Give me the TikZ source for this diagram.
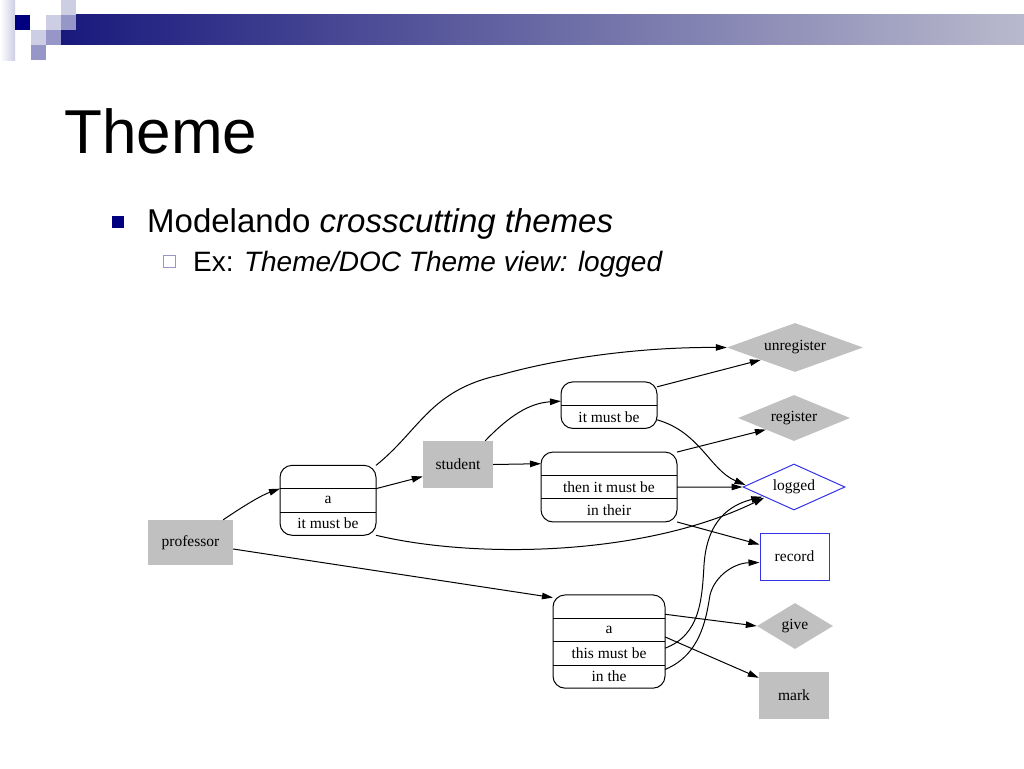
\documentclass[tikz,border=0pt]{standalone}
\usepackage{fontspec}
\setmainfont{Liberation Serif}
\newfontfamily\slidefont{Liberation Sans}
\usetikzlibrary{positioning,calc,shapes,arrows.meta,fit}
\definecolor{navy}{RGB}{0,0,128}
\definecolor{nodegray}{RGB}{192,192,192}
\definecolor{edgeblue}{RGB}{50,50,230}
\definecolor{barleft}{RGB}{25,25,125}
\definecolor{barright}{RGB}{185,185,205}
\definecolor{sqlight}{RGB}{205,205,228}
\definecolor{sqmid}{RGB}{150,150,200}

\begin{document}
\begin{tikzpicture}[x=1pt, y=-1pt,
    every node/.style={font=\fontsize{15.5}{17}\selectfont},
    cell/.style={minimum width=#1, minimum height=23.3, inner sep=0, outer sep=0},
    rec/.style={draw, rounded corners=12, inner sep=0, line width=1},
    term/.style={fill=nodegray, minimum width=70, minimum height=47, inner sep=0},
    gdiam/.style={diamond, aspect=2.4, fill=nodegray, inner sep=0},
    arr/.style={-{Triangle[length=11,width=6.5]}, line width=1}]
  \useasboundingbox (0,0) rectangle (1024,768);

  % slide header
  \shade[left color=white, right color=sqlight] (0,0) rectangle (15,60);
  \shade[left color=barleft, right color=barright] (61,15) rectangle (1024,45);
  \fill[navy] (15,15) rectangle (30,30);
  \fill[sqlight] (61,0) rectangle (76,15);
  \fill[sqlight] (46,15) rectangle (61,30);
  \fill[sqmid] (61,15) rectangle (76,30);
  \fill[sqlight] (31,30) rectangle (46,45);
  \fill[sqmid] (46,30) rectangle (61,45);
  \fill[sqmid] (31,45) rectangle (46,60);

  \node[anchor=base west, inner sep=0, font=\slidefont\fontsize{62}{62}\selectfont] (title) at (64,153) {Theme};
  \node[fill=navy, minimum size=12, inner sep=0] (bul1) at (118,221.5) {};
  \node[anchor=base west, inner sep=0, font=\slidefont\fontsize{33}{33}\selectfont] (line1) at (147,232) {Modelando \textit{crosscutting themes}};
  \node[draw=sqmid, minimum size=12, inner sep=0, line width=0.8] (bul2) at (169.5,261.5) {};
  \node[anchor=base west, inner sep=0, font=\slidefont\fontsize{28}{28}\selectfont] (line2) at (193,271) {Ex: \textit{Theme/DOC Theme view: logged}};

  % diagram
  \node[term, minimum width=85, minimum height=45] (prof) at (190.5,542.5) {professor};
  \node[term] (student) at (458,464.5) {student};

  \node[cell=96] (b1a) at (328,477) {};
  \node[cell=96, below=0pt of b1a] (b1b) {a};
  \node[cell=96, below=0pt of b1b] (b1c) {it must be};
  \node[rec, fit=(b1a)(b1c)] (b1) {};
  \draw (b1a.south west) -- (b1a.south east) (b1b.south west) -- (b1b.south east);

  \node[cell=96] (b2a) at (609,393.5) {};
  \node[cell=96, below=0pt of b2a] (b2b) {it must be};
  \node[rec, fit=(b2a)(b2b)] (b2) {};
  \draw (b2a.south west) -- (b2a.south east);

  \node[cell=136] (b3a) at (609,463.7) {};
  \node[cell=136, below=0pt of b3a] (b3b) {then it must be};
  \node[cell=136, below=0pt of b3b] (b3c) {in their};
  \node[rec, fit=(b3a)(b3c)] (b3) {};
  \draw (b3a.south west) -- (b3a.south east) (b3b.south west) -- (b3b.south east);

  \node[cell=112] (b4a) at (609,606.6) {};
  \node[cell=112, below=0pt of b4a] (b4b) {a};
  \node[cell=112, below=0pt of b4b] (b4c) {this must be};
  \node[cell=112, below=0pt of b4c] (b4d) {in the};
  \node[rec, fit=(b4a)(b4d)] (b4) {};
  \draw (b4a.south west) -- (b4a.south east) (b4b.south west) -- (b4b.south east)
        (b4c.south west) -- (b4c.south east);

  \node[gdiam, minimum width=136, minimum height=49] (unreg) at (795,347.5) {unregister};
  \node[gdiam, minimum width=112, minimum height=46] (reg) at (794,418) {register};
  \node[diamond, aspect=2.4, draw=edgeblue, line width=1, inner sep=0, minimum width=102, minimum height=46] (logged) at (794,487) {logged};
  \node[draw=edgeblue, line width=1, minimum width=69, minimum height=47, inner sep=0] (record) at (794.5,556.5) {record};
  \node[gdiam, minimum width=76, minimum height=46] (give) at (795,626) {give};
  \node[term] (mark) at (794,695.5) {mark};

  % connectors
  \draw[arr] ($(prof.north east)+(-10,0)$) .. controls (245,505) and (262,495) .. (b1a.south west);
  \draw[arr] (b1a.south east) -- ($(student.west)+(0,12)$);
  \draw[arr] (b1a.north east) .. controls (420,430) and (430,390) .. (500,375)
    .. controls (560,358) and (640,347) .. (unreg.west);
  \draw[arr] ($(student.north east)+(-8,0)$) .. controls (510,415) and (530,403) .. ($(b2a.south west)+(0,-4)$);
  \draw[arr] (student.east) -- (b3a.west);
  \draw[arr] ($(b2a.north east)+(0,5)$) -- (unreg.south west);
  \draw[arr] ($(b2b.east)+(0,3)$) .. controls (700,432) and (710,470) .. ($(logged.west)+(3,-2)$);
  \draw[arr] (b3a.north east) -- (reg.south west);
  \draw[arr] (b3b.east) -- (logged.west);
  \draw[arr] (b3c.south east) -- ($(record.north west)+(0,12)$);
  \draw[arr] (b1c.south east) .. controls (470,558) and (640,558) .. ($(logged.south west)+(-4,-1)$);
  \draw[arr] ($(prof.east)+(0,6.5)$) -- ($(b4a.west)+(0,-9)$);
  \draw[arr] ($(b4a.south east)+(0,-4)$) -- (give.west);
  \draw[arr] ($(b4b.east)+(0,7)$) -- ($(mark.north west)+(0,6)$);
  \draw[arr] ($(b4c.east)+(0,-5)$) .. controls (700,635) and (702,600) .. (704,565)
    .. controls (707,520) and (730,505) .. ($(logged.south west)+(-6,-2)$);
  \draw[arr] ($(b4d.east)+(0,-7)$) .. controls (700,655) and (706,620) .. (710,595)
    .. controls (715,575) and (735,563) .. ($(record.west)+(0,6)$);
\end{tikzpicture}
\end{document}
